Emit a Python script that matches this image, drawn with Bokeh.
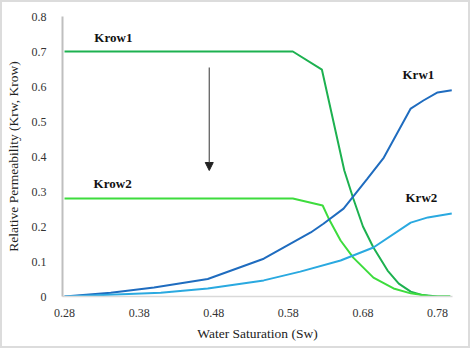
from bokeh.plotting import figure
from bokeh.models import FixedTicker, Arrow, NormalHead, ColumnDataSource
from bokeh.core.properties import value
from bokeh.embed import file_html
from bokeh.resources import INLINE

# Data
sw_krow1 = [0.28, 0.586, 0.625, 0.655, 0.667, 0.680, 0.694, 0.713, 0.728, 0.744, 0.760, 0.780, 0.797]
krow1 = [0.70, 0.70, 0.648, 0.360, 0.280, 0.200, 0.140, 0.074, 0.037, 0.014, 0.004, 0.0, 0.0]

sw_krow2 = [0.28, 0.586, 0.626, 0.634, 0.650, 0.667, 0.694, 0.721, 0.744, 0.770, 0.797]
krow2 = [0.28, 0.28, 0.26, 0.223, 0.160, 0.111, 0.054, 0.023, 0.009, 0.001, 0.0]

sw_krw1 = [0.28, 0.342, 0.40, 0.472, 0.547, 0.610, 0.627, 0.654, 0.686, 0.708, 0.744, 0.761, 0.78, 0.799]
krw1 = [0.0, 0.011, 0.026, 0.05, 0.108, 0.183, 0.208, 0.251, 0.337, 0.397, 0.537, 0.56, 0.583, 0.589]

sw_krw2 = [0.28, 0.409, 0.472, 0.547, 0.596, 0.65, 0.694, 0.744, 0.767, 0.799]
krw2 = [0.0, 0.011, 0.023, 0.046, 0.071, 0.103, 0.14, 0.211, 0.226, 0.237]

x_ticks = [0.28, 0.38, 0.48, 0.58, 0.68, 0.78]
y_ticks = [0, 0.1, 0.2, 0.3, 0.4, 0.5, 0.6, 0.7, 0.8]

label_text = ["Krow1", "Krow2", "Krw1", "Krw2"]
label_x = [0.320, 0.319, 0.733, 0.737]
label_y = [0.74, 0.323, 0.634, 0.283]

arrow_x = 0.474
arrow_y_start = 0.654
arrow_y_end = 0.36

serif = "Liberation Serif"

p = figure(width=470, height=348, output_backend="svg", toolbar_location=None,
           x_range=(0.2773, 0.80), y_range=(0, 0.8),
           min_border_left=60, min_border_right=20, min_border_top=14, min_border_bottom=54,
           styles={"border": "2px solid #dcdcdc"})
p.outline_line_color = None
p.xgrid.visible = False
p.ygrid.visible = False
p.background_fill_color = "white"
p.border_fill_color = "white"

p.line(sw_krow1, krow1, line_color="#1db150", line_width=2)
p.line(sw_krow2, krow2, line_color="#3ddc3d", line_width=2)
p.line(sw_krw1, krw1, line_color="#1f6cbf", line_width=2)
p.line(sw_krw2, krw2, line_color="#2aa9e0", line_width=2)

src = ColumnDataSource(dict(x=label_x, y=label_y, t=label_text))
p.text(x="x", y="y", text="t", source=src, text_font=value(serif), text_font_size="13px",
       text_font_style="bold", text_color="#111111", text_baseline="middle", text_align="left")

p.add_layout(Arrow(end=NormalHead(size=8, fill_color="#222222", line_color="#222222"),
                   x_start=arrow_x, y_start=arrow_y_start, x_end=arrow_x, y_end=arrow_y_end,
                   line_color="#555555", line_width=1.2))

p.xaxis.ticker = FixedTicker(ticks=x_ticks)
p.yaxis.ticker = FixedTicker(ticks=y_ticks)
p.yaxis.major_label_overrides = {0: "0"}
for ax in (p.xaxis, p.yaxis):
    ax.major_tick_line_color = None
    ax.minor_tick_line_color = None
    ax.major_label_text_font = serif
    ax.major_label_text_font_size = "12px"
    ax.major_label_text_color = "#333333"
    ax.axis_label_text_font = serif
    ax.axis_label_text_font_size = "13.5px"
    ax.axis_label_text_font_style = "normal"
    ax.axis_label_text_color = "#222222"
p.xaxis.axis_line_color = "#d9d9d9"
p.yaxis.axis_line_color = "#bfbfbf"
p.xaxis.axis_line_width = 1.5
p.yaxis.axis_line_width = 2
p.xaxis.axis_label = "Water Saturation (Sw)"
p.yaxis.axis_label = "Relative Permeability (Krw, Krow)"
p.xaxis.major_label_standoff = 6
p.yaxis.major_label_standoff = 10
p.xaxis.axis_label_standoff = 6
p.yaxis.axis_label_standoff = 8

open("out.html", "w").write(file_html(p, INLINE))
